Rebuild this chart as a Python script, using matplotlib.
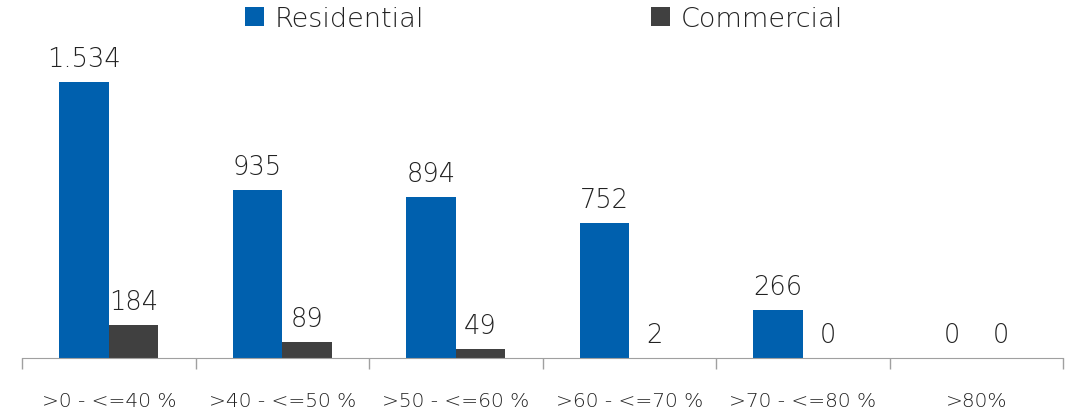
import numpy as np
from matplotlib import pyplot as plt
from matplotlib import font_manager as fm

categories = [">0 - <=40 %", ">40 - <=50 %", ">50 - <=60 %",
              ">60 - <=70 %", ">70 - <=80 %", ">80%"]
residential = [1534, 935, 894, 752, 266, 0]
commercial = [184, 89, 49, 2, 0, 0]


def fmt(v):
    # european thousands separator
    return f"{v:,}".replace(",", ".")


# thin wide font (DejaVu Sans ExtraLight) if it is there
thin_file = None
for f in fm.fontManager.ttflist:
    if f.name == "DejaVu Sans" and f.weight == 200:
        thin_file = f.fname
        break


def font(size):
    if thin_file:
        return fm.FontProperties(fname=thin_file, size=size)
    return fm.FontProperties(family="DejaVu Sans", weight="light", size=size)


txt = "#222222"

fig = plt.figure(figsize=(10.69, 4.14), dpi=100)
ax = fig.add_axes([0.0206, 0.1329, 0.9738, 0.77])

x = np.arange(len(categories))
w = 0.285
b1 = ax.bar(x - w / 2, residential, w, color="#0060ae", label="Residential")
b2 = ax.bar(x + w / 2, commercial, w, color="#404040", label="Commercial")
ax.bar_label(b1, labels=[fmt(v) for v in residential], padding=8,
             fontproperties=font(18.5), color=txt)
ax.bar_label(b2, labels=[fmt(v) for v in commercial], padding=8,
             fontproperties=font(18.5), color=txt)

ax.set_xlim(-0.5, len(categories) - 0.5)
ax.set_ylim(0, 1772)
ax.set_yticks([])
ax.set_xticks(x)
ax.set_xticklabels(categories, fontproperties=font(14.5), color=txt)
ax.tick_params(axis="x", which="major", length=0, pad=24)
ax.set_xticks(np.arange(len(categories) + 1) - 0.5, minor=True)
ax.tick_params(axis="x", which="minor", length=8, color="#a0a0a0", width=1)

for s in ["top", "right", "left"]:
    ax.spines[s].set_visible(False)
ax.spines["bottom"].set_color("#a0a0a0")

fig.legend(loc="center", bbox_to_anchor=(0.509, 0.952), ncol=2,
           frameon=False, prop=font(19.5),
           columnspacing=8.4, handlelength=0.7, handleheight=0.7,
           handletextpad=0.4, labelcolor=txt)

fig.savefig("out.png", dpi=100)
